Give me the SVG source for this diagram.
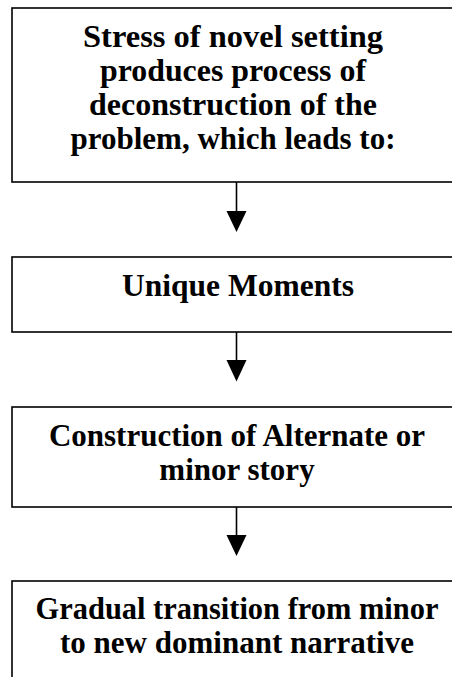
<svg xmlns="http://www.w3.org/2000/svg" width="452" height="677" viewBox="0 0 452 677">
  <style>
    .box { fill: #ffffff; stroke: #000000; stroke-width: 1.6; }
    .label { font-family: "Liberation Serif", "Times New Roman", serif; font-weight: bold; font-size: 31px; fill: #000000; text-anchor: middle; }
    .link { stroke: #000000; stroke-width: 1.6; fill: none; }
    .head { fill: #000000; }
  </style>
  <rect width="452" height="677" fill="#ffffff"/>

  <g id="node-stress">
    <rect class="box" x="12" y="8" width="452" height="174"/>
    <text class="label" x="233" y="47" textLength="300" lengthAdjust="spacingAndGlyphs">Stress of novel setting</text>
    <text class="label" x="233" y="81" textLength="266" lengthAdjust="spacingAndGlyphs">produces process of</text>
    <text class="label" x="233" y="115" textLength="288" lengthAdjust="spacingAndGlyphs">deconstruction of the</text>
    <text class="label" x="233" y="149">problem, which leads to:</text>
  </g>

  <g id="node-unique">
    <rect class="box" x="12" y="257" width="452" height="75"/>
    <text class="label" x="238" y="296" textLength="232" lengthAdjust="spacingAndGlyphs">Unique Moments</text>
  </g>

  <g id="node-alternate">
    <rect class="box" x="12" y="407" width="452" height="100"/>
    <text class="label" x="237" y="446">Construction of Alternate or</text>
    <text class="label" x="237" y="480">minor story</text>
  </g>

  <g id="node-transition">
    <rect class="box" x="12" y="581" width="452" height="110"/>
    <text class="label" x="237" y="619" textLength="403" lengthAdjust="spacingAndGlyphs">Gradual transition from minor</text>
    <text class="label" x="237" y="653">to new dominant narrative</text>
  </g>

  <g id="connectors">
    <line class="link" x1="236.5" y1="182" x2="236.5" y2="212"/>
    <polygon class="head" points="226.5,211 246.5,211 236.5,232"/>
    <line class="link" x1="236.5" y1="332" x2="236.5" y2="361"/>
    <polygon class="head" points="226.5,360 246.5,360 236.5,381.5"/>
    <line class="link" x1="236.5" y1="507" x2="236.5" y2="536"/>
    <polygon class="head" points="226.5,535 246.5,535 236.5,556"/>
  </g>
</svg>
